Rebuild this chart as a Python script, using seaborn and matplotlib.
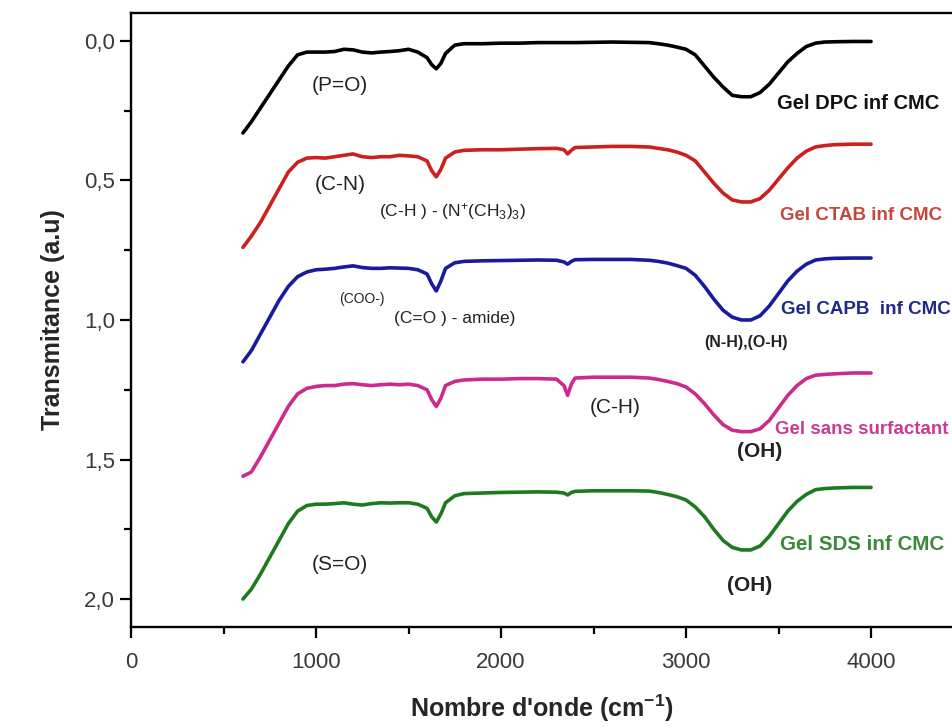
import numpy as np
import pandas as pd
import matplotlib
matplotlib.use("Agg")
import matplotlib.pyplot as plt
from matplotlib.ticker import FuncFormatter, MultipleLocator
import seaborn as sns

# ---------------- data ----------------
wavenumber = [605, 650, 700, 750, 800, 850, 900, 950, 1000, 1050, 1100, 1150, 1200, 1250,
              1300, 1350, 1400, 1450, 1500, 1550, 1600, 1625, 1650, 1675, 1700, 1750, 1800,
              1900, 2000, 2100, 2200, 2300, 2340, 2360, 2380, 2400, 2500, 2600, 2700, 2800,
              2850, 2900, 2950, 3000, 3050, 3100, 3150, 3200, 3250, 3300, 3350, 3400, 3450,
              3500, 3550, 3600, 3650, 3700, 3750, 3800, 3900, 4000]

gel_dpc = [0.33, 0.29, 0.24, 0.19, 0.14, 0.09, 0.05, 0.04, 0.04, 0.04, 0.038, 0.03, 0.032, 0.04,
           0.043, 0.04, 0.038, 0.035, 0.03, 0.04, 0.06, 0.085, 0.10, 0.08, 0.045, 0.015, 0.01,
           0.01, 0.008, 0.008, 0.006, 0.006, 0.006, 0.006, 0.006, 0.006, 0.005, 0.004, 0.005, 0.006,
           0.01, 0.015, 0.022, 0.03, 0.05, 0.09, 0.13, 0.165, 0.195, 0.20, 0.20, 0.185, 0.155,
           0.115, 0.075, 0.045, 0.02, 0.008, 0.004, 0.003, 0.002, 0.002]

gel_ctab = [0.74, 0.70, 0.65, 0.59, 0.53, 0.47, 0.435, 0.42, 0.418, 0.42, 0.415, 0.41, 0.405, 0.415,
            0.418, 0.415, 0.415, 0.41, 0.412, 0.415, 0.43, 0.465, 0.487, 0.46, 0.42, 0.398, 0.392,
            0.39, 0.39, 0.388, 0.386, 0.385, 0.39, 0.405, 0.392, 0.382, 0.38, 0.378, 0.378, 0.38,
            0.385, 0.39, 0.398, 0.41, 0.43, 0.47, 0.51, 0.545, 0.57, 0.577, 0.577, 0.565, 0.535,
            0.495, 0.455, 0.42, 0.395, 0.38, 0.375, 0.372, 0.37, 0.37]

gel_capb = [1.15, 1.11, 1.05, 0.99, 0.93, 0.88, 0.845, 0.828, 0.82, 0.818, 0.815, 0.81, 0.806, 0.812,
            0.815, 0.815, 0.813, 0.814, 0.815, 0.82, 0.835, 0.87, 0.896, 0.86, 0.815, 0.795, 0.79,
            0.788, 0.787, 0.786, 0.785, 0.786, 0.792, 0.80, 0.79, 0.784, 0.783, 0.783, 0.783, 0.786,
            0.79, 0.796, 0.805, 0.815, 0.84, 0.88, 0.925, 0.965, 0.99, 1.0, 1.0, 0.985, 0.95,
            0.905, 0.86, 0.825, 0.80, 0.785, 0.781, 0.779, 0.778, 0.778]

gel_sans = [1.56, 1.545, 1.49, 1.43, 1.37, 1.31, 1.265, 1.245, 1.238, 1.235, 1.235, 1.23, 1.228, 1.232,
            1.235, 1.232, 1.23, 1.232, 1.23, 1.235, 1.25, 1.285, 1.31, 1.28, 1.235, 1.22, 1.215,
            1.212, 1.212, 1.21, 1.21, 1.212, 1.235, 1.27, 1.23, 1.208, 1.205, 1.205, 1.205, 1.208,
            1.213, 1.22, 1.228, 1.24, 1.265, 1.30, 1.34, 1.375, 1.395, 1.40, 1.40, 1.39, 1.36,
            1.315, 1.27, 1.235, 1.21, 1.198, 1.195, 1.193, 1.19, 1.19]

gel_sds = [2.0, 1.965, 1.91, 1.85, 1.79, 1.73, 1.685, 1.665, 1.66, 1.66, 1.658, 1.655, 1.66, 1.663,
           1.658, 1.655, 1.656, 1.655, 1.655, 1.66, 1.675, 1.705, 1.724, 1.695, 1.655, 1.63, 1.622,
           1.62, 1.618, 1.617, 1.616, 1.617, 1.62, 1.627, 1.618, 1.614, 1.612, 1.612, 1.612, 1.613,
           1.618, 1.625, 1.633, 1.645, 1.67, 1.705, 1.75, 1.79, 1.815, 1.824, 1.824, 1.81, 1.775,
           1.73, 1.685, 1.65, 1.625, 1.608, 1.604, 1.602, 1.60, 1.60]

series_names = ["Gel DPC inf CMC", "Gel CTAB inf CMC", "Gel CAPB  inf CMC",
                "Gel sans surfactant", "Gel SDS inf CMC"]
series_values = [gel_dpc, gel_ctab, gel_capb, gel_sans, gel_sds]

y_ticks = [0.0, 0.5, 1.0, 1.5, 2.0]
x_ticks = [0, 1000, 2000, 3000, 4000]

# ---------------- styling ----------------
line_colors = ["#000000", "#cc1f1f", "#1a1a9c", "#cc2a8c", "#1f7a1f"]
label_colors = ["#111111", "#c4473a", "#1f2a8a", "#c83c98", "#3a8a3a"]
label_sizes = [14.5, 13.5, 13.5, 13.5, 14.8]
label_pos = [(3492, 0.226), (3508, 0.624), (3513, 0.964), (3481, 1.394), (3508, 1.806)]

sns.set_theme(style="ticks")
plt.rcParams["font.family"] = ["Liberation Sans", "DejaVu Sans"]
plt.rcParams["mathtext.fontset"] = "custom"
plt.rcParams["mathtext.rm"] = "Liberation Sans"
plt.rcParams["mathtext.bf"] = "Liberation Sans:bold"
plt.rcParams["mathtext.it"] = "Liberation Sans:italic"

frames = []
for name, vals in zip(series_names, series_values):
    frames.append(pd.DataFrame({"wavenumber": wavenumber, "T": vals, "sample": name}))
df = pd.concat(frames, ignore_index=True)

fig = plt.figure(figsize=(9.53, 7.27), dpi=100)
ax = fig.add_axes([0.1375, 0.1376, 0.8625, 0.8445])

sns.lineplot(data=df, x="wavenumber", y="T", hue="sample", palette=dict(zip(series_names, line_colors)),
             sort=False, estimator=None, legend=False, linewidth=2.6, ax=ax)

ax.set_xlim(0, 4443)
ax.set_ylim(2.1, -0.1)

ax.set_xticks(x_ticks)
ax.xaxis.set_minor_locator(MultipleLocator(500))
ax.set_yticks(y_ticks)
ax.yaxis.set_minor_locator(MultipleLocator(0.25))
ax.yaxis.set_major_formatter(FuncFormatter(lambda v, _: f"{v:.1f}".replace(".", ",")))

ax.tick_params(axis="both", which="major", direction="out", length=8, width=1.6,
               labelsize=16, labelcolor="#3a3a3a", color="black")
ax.tick_params(axis="both", which="minor", direction="out", length=5, width=1.6, color="black")
ax.tick_params(axis="x", pad=10)

for side in ["left", "bottom", "top"]:
    ax.spines[side].set_linewidth(1.7)
    ax.spines[side].set_color("black")
ax.spines["right"].set_visible(False)

ax.set_xlabel("Nombre d'onde (cm$^{\\mathbf{-1}}$)", fontsize=18, fontweight="bold", labelpad=14)
ax.set_ylabel("Transmitance (a.u)", fontsize=18, fontweight="bold", labelpad=14)

# series labels
for name, col, fs, (lx, ly) in zip(series_names, label_colors, label_sizes, label_pos):
    ax.text(lx, ly, name, color=col, fontsize=fs, fontweight="bold", ha="left", va="center")

# band annotations
ann_col = "#222222"
ax.text(1130, 0.158, "(P=O)", fontsize=15, color=ann_col, ha="center", va="center")
ax.text(1130, 0.513, "(C-N)", fontsize=15, color=ann_col, ha="center", va="center")
ax.text(1735, 0.613, "(C-H ) - (N$^{+}$(CH$_{3}$)$_{3}$)", fontsize=12.5, color=ann_col,
        ha="center", va="center")
ax.text(1249, 0.925, "(COO-)", fontsize=10, color=ann_col, ha="center", va="center")
ax.text(1751, 0.993, "(C=O ) - amide)", fontsize=12.5, color=ann_col, ha="center", va="center")
ax.text(3324, 1.079, "(N-H),(O-H)", fontsize=11.5, color=ann_col, fontweight="bold",
        ha="center", va="center")
ax.text(2616, 1.315, "(C-H)", fontsize=15, color=ann_col, ha="center", va="center")
ax.text(3400, 1.473, "(OH)", fontsize=15, color=ann_col, fontweight="bold", ha="center", va="center")
ax.text(1130, 1.875, "(S=O)", fontsize=15, color=ann_col, ha="center", va="center")
ax.text(3346, 1.95, "(OH)", fontsize=15, color=ann_col, fontweight="bold", ha="center", va="center")

fig.savefig("out.png", dpi=100)
